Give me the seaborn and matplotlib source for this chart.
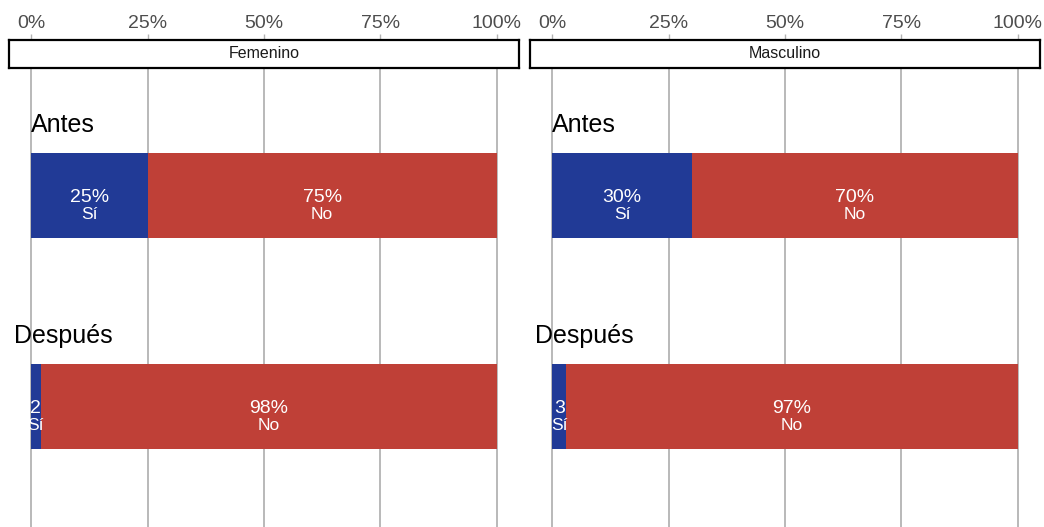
import matplotlib
matplotlib.use("Agg")
import matplotlib.pyplot as plt
import pandas as pd
import seaborn as sns

# data
sexos = ["Femenino", "Masculino"]
momentos = ["Antes", "Después"]
si_pct = {"Femenino": [25, 2], "Masculino": [30, 3]}
si_labels = {"Femenino": ["25%", "2"], "Masculino": ["30%", "3"]}
no_labels = {"Femenino": ["75%", "98%"], "Masculino": ["70%", "97%"]}
ticks = [0, 25, 50, 75, 100]
tick_labels = ["0%", "25%", "50%", "75%", "100%"]

azul = "#213a96"
rojo = "#bf4037"

sns.set_theme(style="white")
plt.rcParams["font.family"] = ["Liberation Sans", "DejaVu Sans"]

W, H = 1044, 527
fig = plt.figure(figsize=(W / 100, H / 100), dpi=100)

lefts = [8, 529]
for sexo, left in zip(sexos, lefts):
    ax = fig.add_axes([left / W, 0, 512 / W, 459 / H])
    df = pd.DataFrame({"momento": momentos, "si": si_pct[sexo]})
    df["total"] = 100
    sns.barplot(data=df, y="momento", x="total", color=rojo, width=0.4,
                saturation=1, orient="h", ax=ax, zorder=2, linewidth=0)
    sns.barplot(data=df, y="momento", x="si", color=azul, width=0.4,
                saturation=1, orient="h", ax=ax, zorder=3, linewidth=0)
    ax.set_xlim(-5, 105)
    ax.set_ylim(1.571, -0.604)
    ax.set_xticks(ticks)
    ax.set_xticklabels([])
    ax.set_yticks([])
    ax.set_xlabel("")
    ax.set_ylabel("")
    ax.tick_params(length=0)
    for s in ax.spines.values():
        s.set_visible(False)
    ax.grid(axis="x", color="#b3b3b3", lw=1.3, zorder=0)
    ax.set_axisbelow(True)

    for i, m in enumerate(momentos):
        si = si_pct[sexo][i]
        ax.text(6.9, i - 0.3, m, ha="center", va="baseline", fontsize=18,
                color="black", zorder=5)
        xs = si / 2
        xn = si + (100 - si) / 2
        ax.text(xs, i + 0.031, si_labels[sexo][i], ha="center", va="baseline",
                fontsize=14, color="white", zorder=5)
        ax.text(xs, i + 0.111, "Sí", ha="center", va="baseline",
                fontsize=12.5, color="white", zorder=5)
        ax.text(xn, i + 0.031, no_labels[sexo][i], ha="center", va="baseline",
                fontsize=14, color="white", zorder=5)
        ax.text(xn, i + 0.111, "No", ha="center", va="baseline",
                fontsize=12.5, color="white", zorder=5)

    # strip with title and top tick labels
    st = fig.add_axes([(left + 1) / W, 1 - 68 / H, 510 / W, 28 / H])
    st.set_xlim(-5 + 1 / 4.66, 105 - 1 / 4.66)
    st.set_ylim(0, 1)
    st.set_facecolor("white")
    for s in st.spines.values():
        s.set_visible(True)
        s.set_color("black")
        s.set_linewidth(1.6)
    st.set_yticks([])
    st.xaxis.tick_top()
    st.set_xticks(ticks)
    st.set_xticklabels(tick_labels, fontsize=14, color="#4d4d4d")
    st.tick_params(axis="x", top=True, bottom=False, length=4, width=1,
                   color="#b3b3b3", pad=1.5)
    st.text(50, 0.5, sexo, ha="center", va="center", fontsize=11.5, color="#1a1a1a")

fig.savefig("out.png", dpi=100)
